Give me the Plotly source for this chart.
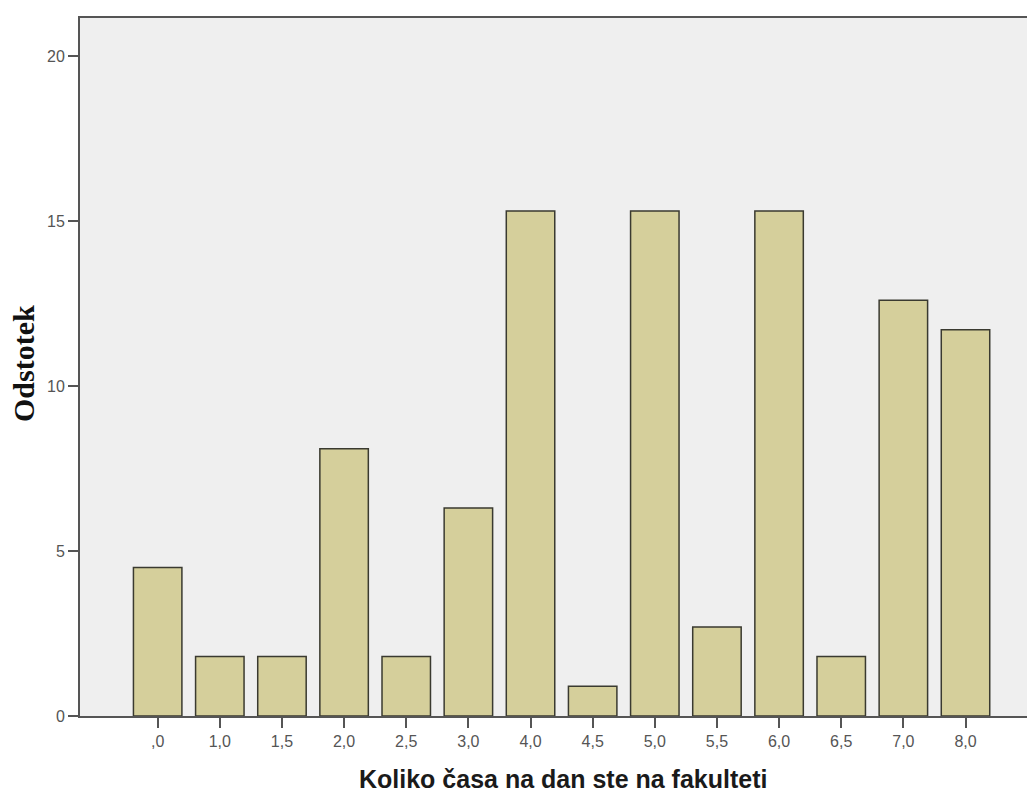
import plotly.graph_objects as go

categories = [",0", "1,0", "1,5", "2,0", "2,5", "3,0", "4,0", "4,5", "5,0", "5,5", "6,0", "6,5", "7,0", "8,0"]
percent = [4.5, 1.8, 1.8, 8.1, 1.8, 6.3, 15.3, 0.9, 15.3, 2.7, 15.3, 1.8, 12.6, 11.7]
y_ticks = [0, 5, 10, 15, 20]

# page body has an 8px default margin; compensate so the plot lands where intended
OFF = 8
L, R, T, B = 80, 1032, 18, 716
PW, PH = R - L, B - T

fig = go.Figure(go.Bar(
    x=list(range(len(categories))),
    y=percent,
    width=0.78,
    marker=dict(color="#d5cf9b", line=dict(color="#3a3a30", width=1.5)),
))

fig.update_layout(
    width=1035 - OFF, height=794 - OFF,
    margin=dict(l=L - OFF, r=(1035 - OFF) - (R - OFF), t=T - OFF, b=(794 - OFF) - (B - OFF), pad=0),
    paper_bgcolor="white",
    plot_bgcolor="#efefef",
    showlegend=False,
    font=dict(family="Arial, Liberation Sans, sans-serif", color="#444"),
    xaxis=dict(
        tickmode="array", tickvals=list(range(len(categories))), ticktext=categories,
        range=[-1.25, 14.07], showgrid=False, zeroline=False,
        showline=True, linecolor="#555", linewidth=2, mirror=True,
        ticks="outside", ticklen=10, tickwidth=2, tickcolor="#555",
        tickfont=dict(size=16, color="#555"),
    ),
    yaxis=dict(
        tickmode="array", tickvals=y_ticks, ticktext=[str(v) for v in y_ticks],
        range=[0, 21.15], showgrid=False, zeroline=False,
        showline=True, linecolor="#555", linewidth=2,
        ticks="outside", ticklen=10, tickwidth=2, tickcolor="#555",
        tickfont=dict(size=16, color="#555"),
    ),
    annotations=[
        dict(text="<b>Koliko časa na dan ste na fakulteti</b>", xref="paper", yref="paper",
             x=(563 - L) / PW, y=-(779 - B) / PH, xanchor="center", yanchor="middle",
             showarrow=False, font=dict(family="Arial, Liberation Sans, sans-serif", size=25, color="#1a1a1a")),
        dict(text="<b>Odstotek</b>", xref="paper", yref="paper",
             x=-(L - 23) / PW, y=(B - 364) / PH, xanchor="center", yanchor="middle",
             textangle=-90, showarrow=False,
             font=dict(family="Times New Roman, Liberation Serif, serif", size=30, color="#111")),
    ],
)

fig.write_html("out.html")
